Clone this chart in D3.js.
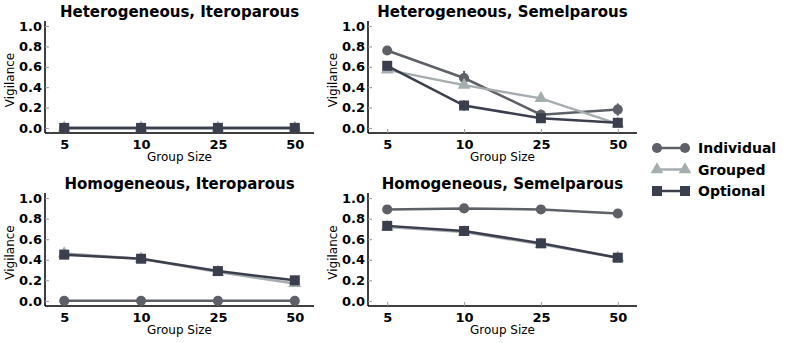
<!DOCTYPE html>
<html>
<head>
<meta charset="utf-8">
<script src="https://cdn.jsdelivr.net/npm/d3@7.9.0/dist/d3.min.js"></script>
<style>
  body { margin: 0; background: #fff; }
  svg { font-family: "DejaVu Sans", sans-serif; }
</style>
</head>
<body>
<div id="chart"></div>
<script>
const groupSizes = [5, 10, 25, 50];
const seriesNames = ['Individual', 'Grouped', 'Optional'];
const panelTitles = [
  'Heterogeneous, Iteroparous',
  'Heterogeneous, Semelparous',
  'Homogeneous, Iteroparous',
  'Homogeneous, Semelparous'
];
const yTicks = [0, 0.2, 0.4, 0.6, 0.8, 1.0];

// vigilance per panel, per series (Individual, Grouped, Optional)
const heteroItero = [
  [0, 0, 0, 0],
  [0, 0, 0, 0],
  [0, 0, 0, 0]
];
const heteroSemel = [
  [0.76, 0.49, 0.13, 0.18],
  [0.57, 0.42, 0.29, 0.04],
  [0.61, 0.22, 0.095, 0.05]
];
const homoItero = [
  [0, 0, 0, 0],
  [0.46, 0.41, 0.28, 0.17],
  [0.45, 0.41, 0.29, 0.20]
];
const homoSemel = [
  [0.89, 0.90, 0.89, 0.85],
  [0.72, 0.67, 0.55, 0.42],
  [0.73, 0.68, 0.56, 0.42]
];
// error bar half-widths
const heteroSemelErr = [
  [0.04, 0.07, 0.05, 0.06],
  [0.03, 0.03, 0.03, 0.02],
  [0.03, 0.05, 0.03, 0.02]
];
const smallErr = [
  [0.01, 0.01, 0.01, 0.01],
  [0.01, 0.01, 0.01, 0.01],
  [0.01, 0.01, 0.01, 0.01]
];

const panelData = [heteroItero, heteroSemel, homoItero, homoSemel];
const panelErr = [smallErr, heteroSemelErr, smallErr, smallErr];

const colors = ['#5e6067', '#a6adae', '#3b3f4d'];
const symbols = [d3.symbolCircle, d3.symbolTriangle, d3.symbolSquare];
const symbolSizes = [80, 70, 100];

const width = 789, height = 343;
const svg = d3.select('#chart').append('svg')
  .attr('width', width)
  .attr('height', height);

const panels = [
  {left: 45, right: 314, top: 21, bottom: 133},
  {left: 368, right: 637, top: 21, bottom: 133},
  {left: 45, right: 314, top: 193, bottom: 306},
  {left: 368, right: 637, top: 193, bottom: 306}
];

panels.forEach((p, i) => {
  const x = d3.scalePoint().domain(groupSizes).range([p.left, p.right]).padding(0.25);
  const y = d3.scaleLinear().domain([-0.05, 1.05]).range([p.bottom, p.top]);
  const g = svg.append('g');

  // y axis, ticks pointing inward
  const yAxis = g.append('g')
    .attr('transform', `translate(${p.left},0)`)
    .call(d3.axisLeft(y).tickValues(yTicks).tickFormat(d3.format('.1f')).tickSize(-4).tickPadding(3));
  yAxis.select('.domain').attr('stroke', '#000').attr('stroke-width', 1.5)
    .attr('d', `M0,${p.top}V${p.bottom}`);
  yAxis.selectAll('.tick line').attr('stroke', '#999');
  yAxis.selectAll('.tick text')
    .attr('font-size', 13).attr('font-weight', 'bold').attr('fill', '#000')
    .attr('font-family', '"DejaVu Sans", sans-serif');

  // x axis, ticks pointing inward
  const xAxis = g.append('g')
    .attr('transform', `translate(0,${p.bottom})`)
    .call(d3.axisBottom(x).tickSize(-4).tickPadding(4));
  xAxis.select('.domain').attr('stroke', '#000').attr('stroke-width', 1.5)
    .attr('d', `M${p.left},0H${p.right}`);
  xAxis.selectAll('.tick line').attr('stroke', '#999');
  xAxis.selectAll('.tick text')
    .attr('font-size', 13).attr('font-weight', 'bold').attr('fill', '#000')
    .attr('font-family', '"DejaVu Sans", sans-serif')
    .attr('dy', '0.9em');

  // title
  g.append('text')
    .attr('x', (p.left + p.right) / 2)
    .attr('y', p.top - 4)
    .attr('text-anchor', 'middle')
    .attr('font-size', 15)
    .attr('font-weight', 'bold')
    .text(panelTitles[i]);

  // axis labels
  g.append('text')
    .attr('x', (p.left + p.right) / 2)
    .attr('y', p.bottom + 28)
    .attr('text-anchor', 'middle')
    .attr('font-size', 12)
    .text('Group Size');
  g.append('text')
    .attr('transform', `translate(${p.left - 31},${(p.top + p.bottom) / 2 + 3}) rotate(-90)`)
    .attr('text-anchor', 'middle')
    .attr('font-size', 12)
    .text('Vigilance');

  const line = d3.line().x((d, j) => x(groupSizes[j])).y(d => y(d));

  panelData[i].forEach((vals, s) => {
    const sg = g.append('g');
    // error bars
    sg.selectAll('line.err')
      .data(vals)
      .join('line')
      .attr('class', 'err')
      .attr('x1', (d, j) => x(groupSizes[j]))
      .attr('x2', (d, j) => x(groupSizes[j]))
      .attr('y1', (d, j) => y(d - panelErr[i][s][j]))
      .attr('y2', (d, j) => y(d + panelErr[i][s][j]))
      .attr('stroke', colors[s])
      .attr('stroke-width', 2);
    sg.append('path')
      .datum(vals)
      .attr('d', line)
      .attr('fill', 'none')
      .attr('stroke', colors[s])
      .attr('stroke-width', 2.5);
    sg.selectAll('path.mark')
      .data(vals)
      .join('path')
      .attr('class', 'mark')
      .attr('transform', (d, j) => `translate(${x(groupSizes[j])},${y(d)})`)
      .attr('d', d3.symbol().type(symbols[s]).size(symbolSizes[s]))
      .attr('fill', colors[s]);
  });
});

// legend
const legend = svg.append('g').attr('transform', 'translate(657,148)');
seriesNames.forEach((name, s) => {
  const row = legend.append('g').attr('transform', `translate(0,${s * 21.5})`);
  row.append('line')
    .attr('x1', 0).attr('x2', 28)
    .attr('stroke', colors[s]).attr('stroke-width', 2.5);
  [0, 28].forEach(cx => {
    row.append('path')
      .attr('transform', `translate(${cx},0)`)
      .attr('d', d3.symbol().type(symbols[s]).size(symbolSizes[s]))
      .attr('fill', colors[s]);
  });
  row.append('text')
    .attr('x', 41)
    .attr('y', 5)
    .attr('font-size', 14)
    .attr('font-weight', 'bold')
    .text(name);
});
</script>
</body>
</html>
